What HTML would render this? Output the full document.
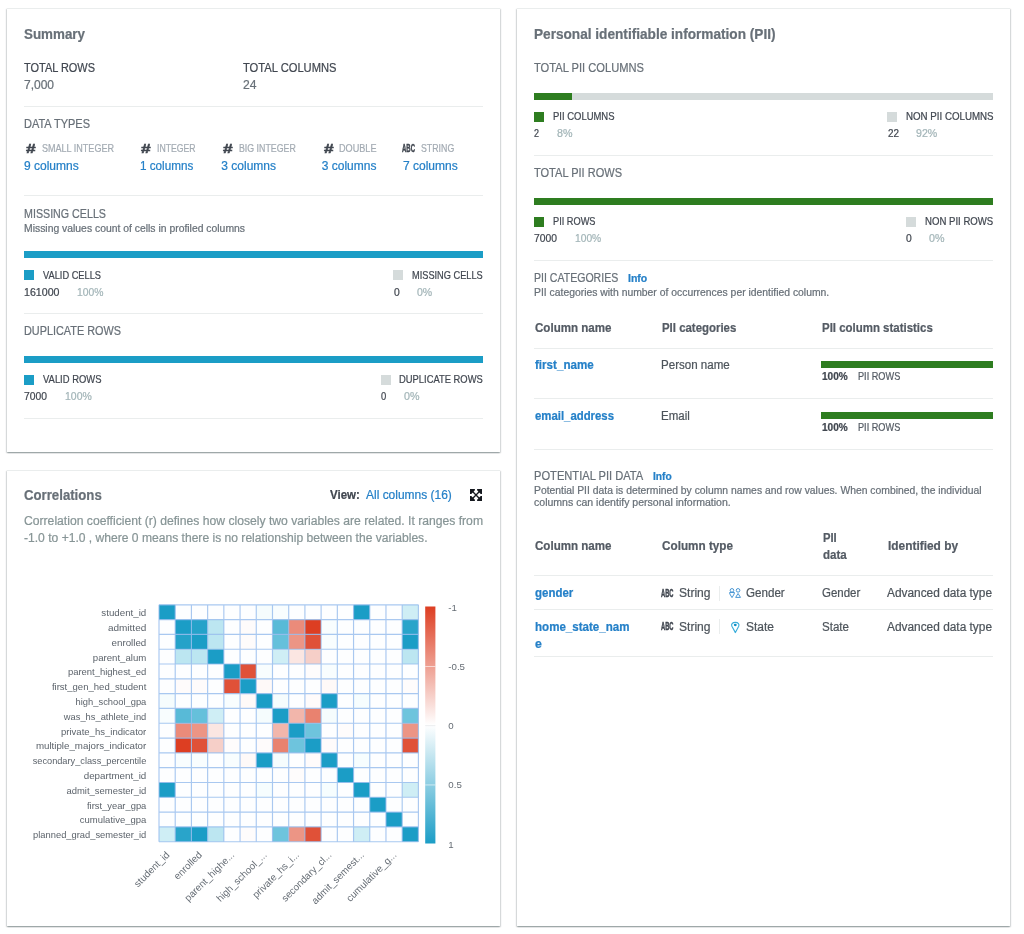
<!DOCTYPE html>
<html lang="en"><head><meta charset="utf-8"><title>Data profile overview</title>
<style>html,body{margin:0;padding:0;background:#fff}body{width:1024px;height:934px;position:relative;overflow:hidden;font-family:"Liberation Sans", Arial, sans-serif}.t{position:absolute;white-space:nowrap;line-height:1;transform-origin:0 50%;-webkit-text-stroke:0.22px}.panel{position:absolute;background:#fff;border-top:1px solid #eaeded;box-sizing:border-box;box-shadow:0 1.4px 1.2px 0 rgba(0,28,36,.28),1px 1px 1.2px 0 rgba(0,28,36,.14),-1px 1px 1.2px 0 rgba(0,28,36,.14);}#page{position:absolute;left:0;top:0;width:1024px;height:934px;will-change:transform}</style></head><body><div id="page">
<div class="panel" style="left:7px;top:8px;width:493px;height:444px"></div>
<div class="panel" style="left:7px;top:470px;width:493px;height:456px"></div>
<div class="panel" style="left:517px;top:8px;width:493px;height:918px"></div>
<div style="position:absolute;left:24px;top:106px;width:459px;height:1px;background:#eaeded;"></div>
<div style="position:absolute;left:24px;top:195px;width:459px;height:1px;background:#eaeded;"></div>
<div style="position:absolute;left:24px;top:251px;width:459px;height:7px;background:#1b9dc6;"></div>
<div style="position:absolute;left:24px;top:270px;width:10px;height:10px;background:#1b9dc6;"></div>
<div style="position:absolute;left:393px;top:270px;width:10px;height:10px;background:#d5dbdb;"></div>
<div style="position:absolute;left:24px;top:313px;width:459px;height:1px;background:#eaeded;"></div>
<div style="position:absolute;left:24px;top:356px;width:459px;height:7px;background:#1b9dc6;"></div>
<div style="position:absolute;left:24px;top:375px;width:10px;height:10px;background:#1b9dc6;"></div>
<div style="position:absolute;left:381px;top:375px;width:10px;height:10px;background:#d5dbdb;"></div>
<div style="position:absolute;left:24px;top:418px;width:459px;height:1px;background:#eaeded;"></div>
<div style="position:absolute;left:534px;top:93px;width:459px;height:7px;background:#d5dbdb;"></div>
<div style="position:absolute;left:534px;top:93px;width:37.5px;height:7px;background:#2e7d20;"></div>
<div style="position:absolute;left:534px;top:112px;width:10px;height:10px;background:#2e7d20;"></div>
<div style="position:absolute;left:887px;top:112px;width:10px;height:10px;background:#d5dbdb;"></div>
<div style="position:absolute;left:534px;top:155px;width:459px;height:1px;background:#eaeded;"></div>
<div style="position:absolute;left:534px;top:198px;width:459px;height:7px;background:#2e7d20;"></div>
<div style="position:absolute;left:534px;top:216.75px;width:10px;height:10px;background:#2e7d20;"></div>
<div style="position:absolute;left:905.5px;top:216.75px;width:10px;height:10px;background:#d5dbdb;"></div>
<div style="position:absolute;left:534px;top:260px;width:459px;height:1px;background:#eaeded;"></div>
<div style="position:absolute;left:534px;top:348px;width:459px;height:1px;background:#eaeded;"></div>
<div style="position:absolute;left:821px;top:361.25px;width:172px;height:6.5px;background:#2e7d20;"></div>
<div style="position:absolute;left:534px;top:398px;width:459px;height:1px;background:#eaeded;"></div>
<div style="position:absolute;left:821px;top:412px;width:172px;height:6.75px;background:#2e7d20;"></div>
<div style="position:absolute;left:534px;top:449px;width:459px;height:1px;background:#eaeded;"></div>
<div style="position:absolute;left:534px;top:575px;width:459px;height:1px;background:#eaeded;"></div>
<div style="position:absolute;left:719px;top:585.5px;width:1px;height:15px;background:#eaeded;"></div>
<div style="position:absolute;left:534px;top:609px;width:459px;height:1px;background:#eaeded;"></div>
<div style="position:absolute;left:719px;top:619.25px;width:1px;height:15px;background:#eaeded;"></div>
<div style="position:absolute;left:534px;top:656px;width:459px;height:1px;background:#eaeded;"></div>
<svg width="494" height="360" viewBox="6 570 494 360" style="position:absolute;left:6px;top:570px;font-family:&quot;Liberation Sans&quot;, Arial, sans-serif">
<defs><linearGradient id="cb" x1="0" y1="0" x2="0" y2="1"><stop offset="0" stop-color="#dd3e22"/><stop offset="0.5" stop-color="#ffffff"/><stop offset="1" stop-color="#1b9dc6"/></linearGradient></defs>
<rect x="159.0" y="604.8" width="259.40" height="236.90" fill="#fdfeff"/>
<rect x="159.00" y="604.80" width="16.21" height="14.81" fill="#1b9dc6"/>
<rect x="256.27" y="604.80" width="16.21" height="14.81" fill="#f5fcfd"/>
<rect x="272.49" y="604.80" width="16.21" height="14.81" fill="#f8fdfe"/>
<rect x="353.55" y="604.80" width="16.21" height="14.81" fill="#1b9dc6"/>
<rect x="402.19" y="604.80" width="16.21" height="14.81" fill="#cfeef5"/>
<rect x="175.21" y="619.61" width="16.21" height="14.81" fill="#1b9dc6"/>
<rect x="191.43" y="619.61" width="16.21" height="14.81" fill="#25a2c9"/>
<rect x="207.64" y="619.61" width="16.21" height="14.81" fill="#bce6f1"/>
<rect x="240.06" y="619.61" width="16.21" height="14.81" fill="#fefbfb"/>
<rect x="272.49" y="619.61" width="16.21" height="14.81" fill="#58bad7"/>
<rect x="288.70" y="619.61" width="16.21" height="14.81" fill="#eb8b7a"/>
<rect x="304.91" y="619.61" width="16.21" height="14.81" fill="#dd3e22"/>
<rect x="321.12" y="619.61" width="16.21" height="14.81" fill="#f8fdfe"/>
<rect x="402.19" y="619.61" width="16.21" height="14.81" fill="#29a4ca"/>
<rect x="175.21" y="634.41" width="16.21" height="14.81" fill="#25a2c9"/>
<rect x="191.43" y="634.41" width="16.21" height="14.81" fill="#1b9dc6"/>
<rect x="207.64" y="634.41" width="16.21" height="14.81" fill="#bce6f1"/>
<rect x="240.06" y="634.41" width="16.21" height="14.81" fill="#fefbfb"/>
<rect x="272.49" y="634.41" width="16.21" height="14.81" fill="#65c0db"/>
<rect x="288.70" y="634.41" width="16.21" height="14.81" fill="#ec9585"/>
<rect x="304.91" y="634.41" width="16.21" height="14.81" fill="#e05138"/>
<rect x="321.12" y="634.41" width="16.21" height="14.81" fill="#f8fdfe"/>
<rect x="402.19" y="634.41" width="16.21" height="14.81" fill="#1b9dc6"/>
<rect x="175.21" y="649.22" width="16.21" height="14.81" fill="#bce6f1"/>
<rect x="191.43" y="649.22" width="16.21" height="14.81" fill="#bce6f1"/>
<rect x="207.64" y="649.22" width="16.21" height="14.81" fill="#1b9dc6"/>
<rect x="272.49" y="649.22" width="16.21" height="14.81" fill="#cfeef5"/>
<rect x="288.70" y="649.22" width="16.21" height="14.81" fill="#fbe6e2"/>
<rect x="304.91" y="649.22" width="16.21" height="14.81" fill="#f6cfc8"/>
<rect x="402.19" y="649.22" width="16.21" height="14.81" fill="#bce6f1"/>
<rect x="223.85" y="664.02" width="16.21" height="14.81" fill="#1b9dc6"/>
<rect x="240.06" y="664.02" width="16.21" height="14.81" fill="#e05138"/>
<rect x="256.27" y="664.02" width="16.21" height="14.81" fill="#f8fdfe"/>
<rect x="304.91" y="664.02" width="16.21" height="14.81" fill="#fefcfc"/>
<rect x="321.12" y="664.02" width="16.21" height="14.81" fill="#f8fdfe"/>
<rect x="175.21" y="678.83" width="16.21" height="14.81" fill="#fefbfb"/>
<rect x="191.43" y="678.83" width="16.21" height="14.81" fill="#fefbfb"/>
<rect x="223.85" y="678.83" width="16.21" height="14.81" fill="#e05138"/>
<rect x="240.06" y="678.83" width="16.21" height="14.81" fill="#1b9dc6"/>
<rect x="256.27" y="678.83" width="16.21" height="14.81" fill="#fef9f8"/>
<rect x="321.12" y="678.83" width="16.21" height="14.81" fill="#fef9f8"/>
<rect x="402.19" y="678.83" width="16.21" height="14.81" fill="#fefcfc"/>
<rect x="159.00" y="693.64" width="16.21" height="14.81" fill="#f5fcfd"/>
<rect x="223.85" y="693.64" width="16.21" height="14.81" fill="#f8fdfe"/>
<rect x="240.06" y="693.64" width="16.21" height="14.81" fill="#fef9f8"/>
<rect x="256.27" y="693.64" width="16.21" height="14.81" fill="#1b9dc6"/>
<rect x="272.49" y="693.64" width="16.21" height="14.81" fill="#f5fcfd"/>
<rect x="304.91" y="693.64" width="16.21" height="14.81" fill="#fefbfb"/>
<rect x="321.12" y="693.64" width="16.21" height="14.81" fill="#1b9dc6"/>
<rect x="353.55" y="693.64" width="16.21" height="14.81" fill="#f6fdfe"/>
<rect x="159.00" y="708.44" width="16.21" height="14.81" fill="#f8fdfe"/>
<rect x="175.21" y="708.44" width="16.21" height="14.81" fill="#58bad7"/>
<rect x="191.43" y="708.44" width="16.21" height="14.81" fill="#65c0db"/>
<rect x="207.64" y="708.44" width="16.21" height="14.81" fill="#cfeef5"/>
<rect x="256.27" y="708.44" width="16.21" height="14.81" fill="#f5fcfd"/>
<rect x="272.49" y="708.44" width="16.21" height="14.81" fill="#1b9dc6"/>
<rect x="288.70" y="708.44" width="16.21" height="14.81" fill="#f2b6ab"/>
<rect x="304.91" y="708.44" width="16.21" height="14.81" fill="#e9826f"/>
<rect x="321.12" y="708.44" width="16.21" height="14.81" fill="#f5fcfd"/>
<rect x="402.19" y="708.44" width="16.21" height="14.81" fill="#6ec4dd"/>
<rect x="175.21" y="723.25" width="16.21" height="14.81" fill="#eb8b7a"/>
<rect x="191.43" y="723.25" width="16.21" height="14.81" fill="#ec9585"/>
<rect x="207.64" y="723.25" width="16.21" height="14.81" fill="#fbe6e2"/>
<rect x="272.49" y="723.25" width="16.21" height="14.81" fill="#f2b6ab"/>
<rect x="288.70" y="723.25" width="16.21" height="14.81" fill="#1b9dc6"/>
<rect x="304.91" y="723.25" width="16.21" height="14.81" fill="#6ec4dd"/>
<rect x="337.34" y="723.25" width="16.21" height="14.81" fill="#fefcfc"/>
<rect x="402.19" y="723.25" width="16.21" height="14.81" fill="#ec9585"/>
<rect x="175.21" y="738.06" width="16.21" height="14.81" fill="#dd3e22"/>
<rect x="191.43" y="738.06" width="16.21" height="14.81" fill="#e05138"/>
<rect x="207.64" y="738.06" width="16.21" height="14.81" fill="#f6cfc8"/>
<rect x="223.85" y="738.06" width="16.21" height="14.81" fill="#fefcfc"/>
<rect x="256.27" y="738.06" width="16.21" height="14.81" fill="#fefbfb"/>
<rect x="272.49" y="738.06" width="16.21" height="14.81" fill="#e9826f"/>
<rect x="288.70" y="738.06" width="16.21" height="14.81" fill="#6ec4dd"/>
<rect x="304.91" y="738.06" width="16.21" height="14.81" fill="#1b9dc6"/>
<rect x="321.12" y="738.06" width="16.21" height="14.81" fill="#fefbfb"/>
<rect x="402.19" y="738.06" width="16.21" height="14.81" fill="#e05138"/>
<rect x="175.21" y="752.86" width="16.21" height="14.81" fill="#f8fdfe"/>
<rect x="191.43" y="752.86" width="16.21" height="14.81" fill="#f8fdfe"/>
<rect x="223.85" y="752.86" width="16.21" height="14.81" fill="#f8fdfe"/>
<rect x="240.06" y="752.86" width="16.21" height="14.81" fill="#fef9f8"/>
<rect x="256.27" y="752.86" width="16.21" height="14.81" fill="#1b9dc6"/>
<rect x="272.49" y="752.86" width="16.21" height="14.81" fill="#f5fcfd"/>
<rect x="304.91" y="752.86" width="16.21" height="14.81" fill="#fefbfb"/>
<rect x="321.12" y="752.86" width="16.21" height="14.81" fill="#1b9dc6"/>
<rect x="353.55" y="752.86" width="16.21" height="14.81" fill="#f6fdfe"/>
<rect x="288.70" y="767.67" width="16.21" height="14.81" fill="#fefcfc"/>
<rect x="337.34" y="767.67" width="16.21" height="14.81" fill="#1b9dc6"/>
<rect x="159.00" y="782.48" width="16.21" height="14.81" fill="#1b9dc6"/>
<rect x="256.27" y="782.48" width="16.21" height="14.81" fill="#f6fdfe"/>
<rect x="321.12" y="782.48" width="16.21" height="14.81" fill="#f6fdfe"/>
<rect x="353.55" y="782.48" width="16.21" height="14.81" fill="#1b9dc6"/>
<rect x="402.19" y="782.48" width="16.21" height="14.81" fill="#cfeef5"/>
<rect x="369.76" y="797.28" width="16.21" height="14.81" fill="#1b9dc6"/>
<rect x="385.97" y="812.09" width="16.21" height="14.81" fill="#1b9dc6"/>
<rect x="159.00" y="826.89" width="16.21" height="14.81" fill="#cfeef5"/>
<rect x="175.21" y="826.89" width="16.21" height="14.81" fill="#29a4ca"/>
<rect x="191.43" y="826.89" width="16.21" height="14.81" fill="#1b9dc6"/>
<rect x="207.64" y="826.89" width="16.21" height="14.81" fill="#bce6f1"/>
<rect x="240.06" y="826.89" width="16.21" height="14.81" fill="#fefcfc"/>
<rect x="272.49" y="826.89" width="16.21" height="14.81" fill="#6ec4dd"/>
<rect x="288.70" y="826.89" width="16.21" height="14.81" fill="#ec9585"/>
<rect x="304.91" y="826.89" width="16.21" height="14.81" fill="#e05138"/>
<rect x="353.55" y="826.89" width="16.21" height="14.81" fill="#cfeef5"/>
<rect x="402.19" y="826.89" width="16.21" height="14.81" fill="#1b9dc6"/>
<path d="M159.00 604.80V841.70M159.00 604.80H418.40M175.21 604.80V841.70M159.00 619.61H418.40M191.43 604.80V841.70M159.00 634.41H418.40M207.64 604.80V841.70M159.00 649.22H418.40M223.85 604.80V841.70M159.00 664.02H418.40M240.06 604.80V841.70M159.00 678.83H418.40M256.27 604.80V841.70M159.00 693.64H418.40M272.49 604.80V841.70M159.00 708.44H418.40M288.70 604.80V841.70M159.00 723.25H418.40M304.91 604.80V841.70M159.00 738.06H418.40M321.12 604.80V841.70M159.00 752.86H418.40M337.34 604.80V841.70M159.00 767.67H418.40M353.55 604.80V841.70M159.00 782.48H418.40M369.76 604.80V841.70M159.00 797.28H418.40M385.97 604.80V841.70M159.00 812.09H418.40M402.19 604.80V841.70M159.00 826.89H418.40M418.40 604.80V841.70M159.00 841.70H418.40" stroke="#94baec" stroke-opacity="0.8" stroke-width="1.15" fill="none"/>
<text x="146.3" y="616.20" font-size="9.8" fill="#5c636b" text-anchor="end" textLength="45.0" lengthAdjust="spacingAndGlyphs">student_id</text>
<text x="146.3" y="631.01" font-size="9.8" fill="#5c636b" text-anchor="end" textLength="38.4" lengthAdjust="spacingAndGlyphs">admitted</text>
<text x="146.3" y="645.82" font-size="9.8" fill="#5c636b" text-anchor="end" textLength="34.8" lengthAdjust="spacingAndGlyphs">enrolled</text>
<text x="146.3" y="660.62" font-size="9.8" fill="#5c636b" text-anchor="end" textLength="53.5" lengthAdjust="spacingAndGlyphs">parent_alum</text>
<text x="146.3" y="675.43" font-size="9.8" fill="#5c636b" text-anchor="end" textLength="78.4" lengthAdjust="spacingAndGlyphs">parent_highest_ed</text>
<text x="146.3" y="690.23" font-size="9.8" fill="#5c636b" text-anchor="end" textLength="94.4" lengthAdjust="spacingAndGlyphs">first_gen_hed_student</text>
<text x="146.3" y="705.04" font-size="9.8" fill="#5c636b" text-anchor="end" textLength="70.7" lengthAdjust="spacingAndGlyphs">high_school_gpa</text>
<text x="146.3" y="719.85" font-size="9.8" fill="#5c636b" text-anchor="end" textLength="82.5" lengthAdjust="spacingAndGlyphs">was_hs_athlete_ind</text>
<text x="146.3" y="734.65" font-size="9.8" fill="#5c636b" text-anchor="end" textLength="85.3" lengthAdjust="spacingAndGlyphs">private_hs_indicator</text>
<text x="146.3" y="749.46" font-size="9.8" fill="#5c636b" text-anchor="end" textLength="110.4" lengthAdjust="spacingAndGlyphs">multiple_majors_indicator</text>
<text x="146.3" y="764.27" font-size="9.8" fill="#5c636b" text-anchor="end" textLength="113.6" lengthAdjust="spacingAndGlyphs">secondary_class_percentile</text>
<text x="146.3" y="779.07" font-size="9.8" fill="#5c636b" text-anchor="end" textLength="62.6" lengthAdjust="spacingAndGlyphs">department_id</text>
<text x="146.3" y="793.88" font-size="9.8" fill="#5c636b" text-anchor="end" textLength="79.8" lengthAdjust="spacingAndGlyphs">admit_semester_id</text>
<text x="146.3" y="808.68" font-size="9.8" fill="#5c636b" text-anchor="end" textLength="59.3" lengthAdjust="spacingAndGlyphs">first_year_gpa</text>
<text x="146.3" y="823.49" font-size="9.8" fill="#5c636b" text-anchor="end" textLength="66.5" lengthAdjust="spacingAndGlyphs">cumulative_gpa</text>
<text x="146.3" y="838.30" font-size="9.8" fill="#5c636b" text-anchor="end" textLength="113.2" lengthAdjust="spacingAndGlyphs">planned_grad_semester_id</text>
<text transform="translate(170.11 855.50) rotate(-45)" font-size="9.85" fill="#666d75" text-anchor="end">student_id</text>
<text transform="translate(202.53 855.50) rotate(-45)" font-size="9.85" fill="#666d75" text-anchor="end">enrolled</text>
<text transform="translate(234.96 855.50) rotate(-45)" font-size="9.85" fill="#666d75" text-anchor="end">parent_highe...</text>
<text transform="translate(267.38 855.50) rotate(-45)" font-size="9.85" fill="#666d75" text-anchor="end">high_school_...</text>
<text transform="translate(299.81 855.50) rotate(-45)" font-size="9.85" fill="#666d75" text-anchor="end">private_hs_i...</text>
<text transform="translate(332.23 855.50) rotate(-45)" font-size="9.85" fill="#666d75" text-anchor="end">secondary_cl...</text>
<text transform="translate(364.66 855.50) rotate(-45)" font-size="9.85" fill="#666d75" text-anchor="end">admit_semest...</text>
<text transform="translate(397.08 855.50) rotate(-45)" font-size="9.85" fill="#666d75" text-anchor="end">cumulative_g...</text>
<rect x="425.2" y="606.5" width="10.2" height="237" fill="url(#cb)"/>
<text x="448.3" y="610.50" font-size="9.7" fill="#666d75">-1</text>
<rect x="425.2" y="666.05" width="10.2" height="0.8" fill="#ffffff" fill-opacity="0.75"/>
<text x="448.3" y="669.75" font-size="9.7" fill="#666d75">-0.5</text>
<rect x="425.2" y="725.30" width="10.2" height="0.8" fill="#dfe3e6" fill-opacity="0.75"/>
<text x="448.3" y="729.00" font-size="9.7" fill="#666d75">0</text>
<rect x="425.2" y="784.55" width="10.2" height="0.8" fill="#ffffff" fill-opacity="0.75"/>
<text x="448.3" y="788.25" font-size="9.7" fill="#666d75">0.5</text>
<text x="448.3" y="847.50" font-size="9.7" fill="#666d75">1</text>
</svg>
<svg viewBox="0 0 12 12" width="12" height="12" style="position:absolute;left:470px;top:489px"><path d="M0 0h4.900v1.300L1.300 4.900H0zM12 0v4.900h-1.300L7.100 1.300V0zM0 12V7.100h1.300L4.900 10.700V12zM12 12H7.100v-1.300L10.700 7.100H12z" fill="#16191f"/><path d="M1.800 1.800L10.200 10.200M10.200 1.800L1.800 10.200" stroke="#16191f" stroke-width="1.35" fill="none"/></svg>
<svg viewBox="0 0 16 14" width="16" height="14" style="position:absolute;left:728px;top:586px" fill="none" stroke="#4a97d4" stroke-width="1.0" stroke-linejoin="round"><circle cx="3.970" cy="4.350" r="1.800"/><path d="M1.600 6.500h4.800l-0.250 1.500-2.150 3.600-2.150-3.600z"/><circle cx="10.060" cy="4.350" r="1.800"/><path d="M10.060 7.500L7.650 11.400h4.850z"/></svg>
<svg viewBox="0 0 12 16" width="12" height="16" style="position:absolute;left:730px;top:619px" fill="none" stroke="#3aaedb" stroke-width="1.150" stroke-linejoin="round"><path d="M5.400 13.600L1.900 7.300C0.900 5.300 2.300 3.300 5.300 3.300S9.600 5.300 8.700 7.300z"/><ellipse cx="5.300" cy="6" rx="1.450" ry="1.150" fill="#0e90c6" stroke="none"/></svg>
<span class="t" id="t0" style="left:24.00px;top:27.03px;font-size:14px;color:#687078;font-weight:700;transform:scaleX(0.9559);">Summary</span>
<span class="t" id="t1" style="left:24.00px;top:62.03px;font-size:12.3px;color:#414750;transform:scaleX(0.8906);">TOTAL ROWS</span>
<span class="t" id="t2" style="left:24.00px;top:79.03px;font-size:12px;color:#687078;">7,000</span>
<span class="t" id="t3" style="left:242.50px;top:62.03px;font-size:12.3px;color:#414750;transform:scaleX(0.9082);">TOTAL COLUMNS</span>
<span class="t" id="t4" style="left:242.50px;top:79.03px;font-size:12px;color:#687078;transform:scaleX(1.0105);">24</span>
<span class="t" id="t5" style="left:24.00px;top:118.03px;font-size:12.3px;color:#687078;transform:scaleX(0.8942);">DATA TYPES</span>
<span class="t" id="t6" style="left:25.70px;top:143.02px;font-size:12.5px;color:#414750;font-weight:700;-webkit-text-stroke:0.5px;transform:scaleX(1.3807);">#</span>
<span class="t" id="t7" style="left:41.70px;top:143.02px;font-size:10.5px;color:#a3abb3;transform:scaleX(0.8608);">SMALL INTEGER</span>
<span class="t" id="t8" style="left:24.00px;top:160.03px;font-size:12px;color:#2580c8;">9 columns</span>
<span class="t" id="t9" style="left:140.80px;top:143.02px;font-size:12.5px;color:#414750;font-weight:700;-webkit-text-stroke:0.5px;transform:scaleX(1.3807);">#</span>
<span class="t" id="t10" style="left:156.80px;top:143.02px;font-size:10.5px;color:#a3abb3;transform:scaleX(0.8271);">INTEGER</span>
<span class="t" id="t11" style="left:140.00px;top:160.03px;font-size:12px;color:#2580c8;transform:scaleX(0.9744);">1 columns</span>
<span class="t" id="t12" style="left:223.00px;top:143.02px;font-size:12.5px;color:#414750;font-weight:700;-webkit-text-stroke:0.5px;transform:scaleX(1.3807);">#</span>
<span class="t" id="t13" style="left:238.75px;top:143.02px;font-size:10.5px;color:#a3abb3;transform:scaleX(0.8384);">BIG INTEGER</span>
<span class="t" id="t14" style="left:221.30px;top:160.03px;font-size:12px;color:#2580c8;">3 columns</span>
<span class="t" id="t15" style="left:324.00px;top:143.02px;font-size:12.5px;color:#414750;font-weight:700;-webkit-text-stroke:0.5px;transform:scaleX(1.3807);">#</span>
<span class="t" id="t16" style="left:339.25px;top:143.02px;font-size:10.5px;color:#a3abb3;transform:scaleX(0.8683);">DOUBLE</span>
<span class="t" id="t17" style="left:321.75px;top:160.03px;font-size:12px;color:#2580c8;">3 columns</span>
<span class="t" id="t18" style="left:402.00px;top:144.04px;font-size:10px;color:#414750;font-weight:700;-webkit-text-stroke:0.45px;transform:scaleX(0.5999);">ABC</span>
<span class="t" id="t19" style="left:420.50px;top:143.02px;font-size:10.5px;color:#a3abb3;transform:scaleX(0.8381);">STRING</span>
<span class="t" id="t20" style="left:403.00px;top:160.03px;font-size:12px;color:#2580c8;">7 columns</span>
<span class="t" id="t21" style="left:24.00px;top:208.03px;font-size:12.3px;color:#687078;transform:scaleX(0.8694);">MISSING CELLS</span>
<span class="t" id="t22" style="left:24.00px;top:224.04px;font-size:10.3px;color:#687078;transform:scaleX(1.0082);">Missing values count of cells in profiled columns</span>
<span class="t" id="t23" style="left:42.50px;top:270.02px;font-size:10.5px;color:#414750;transform:scaleX(0.8819);">VALID CELLS</span>
<span class="t" id="t24" style="left:24.00px;top:287.02px;font-size:10.5px;color:#414750;transform:scaleX(1.0129);">161000</span>
<span class="t" id="t25" style="left:76.75px;top:287.02px;font-size:10.5px;color:#a3b5b8;transform:scaleX(0.9866);">100%</span>
<span class="t" id="t26" style="left:412.25px;top:270.02px;font-size:10.5px;color:#414750;transform:scaleX(0.8785);">MISSING CELLS</span>
<span class="t" id="t27" style="left:393.50px;top:287.02px;font-size:10.5px;color:#414750;transform:scaleX(0.9840);">0</span>
<span class="t" id="t28" style="left:416.50px;top:287.02px;font-size:10.5px;color:#a3b5b8;transform:scaleX(1.0041);">0%</span>
<span class="t" id="t29" style="left:24.00px;top:325.03px;font-size:12.3px;color:#687078;transform:scaleX(0.8836);">DUPLICATE ROWS</span>
<span class="t" id="t30" style="left:42.50px;top:374.02px;font-size:10.5px;color:#414750;transform:scaleX(0.8978);">VALID ROWS</span>
<span class="t" id="t31" style="left:24.00px;top:391.02px;font-size:10.5px;color:#414750;transform:scaleX(0.9846);">7000</span>
<span class="t" id="t32" style="left:65.00px;top:391.02px;font-size:10.5px;color:#a3b5b8;transform:scaleX(0.9959);">100%</span>
<span class="t" id="t33" style="left:399.25px;top:374.02px;font-size:10.5px;color:#414750;transform:scaleX(0.8935);">DUPLICATE ROWS</span>
<span class="t" id="t34" style="left:381.00px;top:391.02px;font-size:10.5px;color:#414750;transform:scaleX(0.8984);">0</span>
<span class="t" id="t35" style="left:403.50px;top:391.02px;font-size:10.5px;color:#a3b5b8;transform:scaleX(1.0206);">0%</span>
<span class="t" id="t36" style="left:24.00px;top:488.03px;font-size:14px;color:#687078;font-weight:700;transform:scaleX(0.9428);">Correlations</span>
<span class="t" id="t37" style="left:330.20px;top:489.03px;font-size:12.3px;color:#414750;font-weight:700;transform:scaleX(0.9340);">View:</span>
<span class="t" id="t38" style="left:366.00px;top:489.03px;font-size:12.3px;color:#2580c8;transform:scaleX(0.9733);">All columns (16)</span>
<span class="t" id="t39" style="left:24.00px;top:515.03px;font-size:12.3px;color:#879596;transform:scaleX(0.9881);">Correlation coefficient (r) defines how closely two variables are related. It ranges from</span>
<span class="t" id="t40" style="left:24.00px;top:532.03px;font-size:12.3px;color:#879596;transform:scaleX(0.9830);">-1.0 to +1.0 , where 0 means there is no relationship between the variables.</span>
<span class="t" id="t41" style="left:534.00px;top:27.03px;font-size:14px;color:#687078;font-weight:700;transform:scaleX(0.9732);">Personal identifiable information (PII)</span>
<span class="t" id="t42" style="left:534.00px;top:62.03px;font-size:12.3px;color:#687078;transform:scaleX(0.9060);">TOTAL PII COLUMNS</span>
<span class="t" id="t43" style="left:552.50px;top:111.02px;font-size:10.5px;color:#414750;transform:scaleX(0.9009);">PII COLUMNS</span>
<span class="t" id="t44" style="left:534.00px;top:128.02px;font-size:10.5px;color:#414750;transform:scaleX(0.8556);">2</span>
<span class="t" id="t45" style="left:556.50px;top:128.02px;font-size:10.5px;color:#a3b5b8;transform:scaleX(1.0206);">8%</span>
<span class="t" id="t46" style="left:905.50px;top:111.02px;font-size:10.5px;color:#414750;transform:scaleX(0.9258);">NON PII COLUMNS</span>
<span class="t" id="t47" style="left:887.50px;top:128.02px;font-size:10.5px;color:#414750;transform:scaleX(0.9412);">22</span>
<span class="t" id="t48" style="left:916.00px;top:128.02px;font-size:10.5px;color:#a3b5b8;transform:scaleX(1.0112);">92%</span>
<span class="t" id="t49" style="left:534.00px;top:167.03px;font-size:12.3px;color:#687078;transform:scaleX(0.8964);">TOTAL PII ROWS</span>
<span class="t" id="t50" style="left:552.50px;top:216.02px;font-size:10.5px;color:#414750;transform:scaleX(0.8777);">PII ROWS</span>
<span class="t" id="t51" style="left:534.00px;top:233.02px;font-size:10.5px;color:#414750;transform:scaleX(0.9846);">7000</span>
<span class="t" id="t52" style="left:575.00px;top:233.02px;font-size:10.5px;color:#a3b5b8;transform:scaleX(0.9773);">100%</span>
<span class="t" id="t53" style="left:924.75px;top:216.02px;font-size:10.5px;color:#414750;transform:scaleX(0.9140);">NON PII ROWS</span>
<span class="t" id="t54" style="left:906.00px;top:233.02px;font-size:10.5px;color:#414750;transform:scaleX(0.9840);">0</span>
<span class="t" id="t55" style="left:928.75px;top:233.02px;font-size:10.5px;color:#a3b5b8;transform:scaleX(1.0206);">0%</span>
<span class="t" id="t56" style="left:534.00px;top:272.03px;font-size:12.3px;color:#687078;transform:scaleX(0.8582);">PII CATEGORIES</span>
<span class="t" id="t57" style="left:627.75px;top:274.02px;font-size:10px;color:#2580c8;font-weight:700;transform:scaleX(1.0503);">Info</span>
<span class="t" id="t58" style="left:534.00px;top:288.04px;font-size:10.3px;color:#687078;transform:scaleX(1.0075);">PII categories with number of occurrences per identified column.</span>
<span class="t" id="t59" style="left:535.00px;top:322.03px;font-size:12.3px;color:#545b64;font-weight:700;transform:scaleX(0.9408);">Column name</span>
<span class="t" id="t60" style="left:661.50px;top:322.03px;font-size:12.3px;color:#545b64;font-weight:700;transform:scaleX(0.9285);">PII categories</span>
<span class="t" id="t61" style="left:822.25px;top:322.03px;font-size:12.3px;color:#545b64;font-weight:700;transform:scaleX(0.9314);">PII column statistics</span>
<span class="t" id="t62" style="left:535.00px;top:359.03px;font-size:12.3px;color:#2580c8;font-weight:700;transform:scaleX(0.9445);">first_name</span>
<span class="t" id="t63" style="left:661.25px;top:359.03px;font-size:12.3px;color:#4d545b;transform:scaleX(0.9400);">Person name</span>
<span class="t" id="t64" style="left:822.25px;top:372.03px;font-size:10.2px;color:#414750;font-weight:700;transform:scaleX(0.9880);">100%</span>
<span class="t" id="t65" style="left:857.50px;top:372.03px;font-size:10.2px;color:#545b64;transform:scaleX(0.8992);">PII ROWS</span>
<span class="t" id="t66" style="left:535.00px;top:410.03px;font-size:12.3px;color:#2580c8;font-weight:700;transform:scaleX(0.9245);">email_address</span>
<span class="t" id="t67" style="left:661.25px;top:410.03px;font-size:12.3px;color:#4d545b;transform:scaleX(0.9350);">Email</span>
<span class="t" id="t68" style="left:822.25px;top:423.03px;font-size:10.2px;color:#414750;font-weight:700;transform:scaleX(0.9880);">100%</span>
<span class="t" id="t69" style="left:857.50px;top:423.03px;font-size:10.2px;color:#545b64;transform:scaleX(0.8992);">PII ROWS</span>
<span class="t" id="t70" style="left:534.00px;top:470.03px;font-size:12.3px;color:#687078;transform:scaleX(0.9050);">POTENTIAL PII DATA</span>
<span class="t" id="t71" style="left:652.75px;top:472.02px;font-size:10px;color:#2580c8;font-weight:700;transform:scaleX(1.0230);">Info</span>
<span class="t" id="t72" style="left:534.00px;top:486.04px;font-size:10.3px;color:#687078;transform:scaleX(1.0062);">Potential PII data is determined by column names and row values. When combined, the individual</span>
<span class="t" id="t73" style="left:534.00px;top:498.04px;font-size:10.3px;color:#687078;transform:scaleX(1.0231);">columns can identify personal information.</span>
<span class="t" id="t74" style="left:535.00px;top:540.03px;font-size:12.3px;color:#545b64;font-weight:700;transform:scaleX(0.9408);">Column name</span>
<span class="t" id="t75" style="left:661.50px;top:540.03px;font-size:12.3px;color:#545b64;font-weight:700;transform:scaleX(0.9534);">Column type</span>
<span class="t" id="t76" style="left:822.50px;top:532.03px;font-size:12.3px;color:#545b64;font-weight:700;transform:scaleX(0.9138);">PII</span>
<span class="t" id="t77" style="left:822.50px;top:549.03px;font-size:12.3px;color:#545b64;font-weight:700;transform:scaleX(0.9389);">data</span>
<span class="t" id="t78" style="left:887.50px;top:540.03px;font-size:12.3px;color:#545b64;font-weight:700;transform:scaleX(0.9666);">Identified by</span>
<span class="t" id="t79" style="left:535.00px;top:587.03px;font-size:12.3px;color:#2580c8;font-weight:700;transform:scaleX(0.9329);">gender</span>
<span class="t" id="t80" style="left:660.75px;top:589.04px;font-size:10px;color:#414750;font-weight:700;-webkit-text-stroke:0.45px;transform:scaleX(0.5768);">ABC</span>
<span class="t" id="t81" style="left:678.75px;top:587.03px;font-size:12.3px;color:#4d545b;transform:scaleX(0.9805);">String</span>
<span class="t" id="t82" style="left:746.25px;top:587.03px;font-size:12.3px;color:#4d545b;transform:scaleX(0.9444);">Gender</span>
<span class="t" id="t83" style="left:821.75px;top:587.03px;font-size:12.3px;color:#4d545b;transform:scaleX(0.9322);">Gender</span>
<span class="t" id="t84" style="left:886.75px;top:587.03px;font-size:12.3px;color:#4d545b;transform:scaleX(0.9659);">Advanced data type</span>
<span class="t" id="t85" style="left:535.00px;top:621.03px;font-size:12.3px;color:#2580c8;font-weight:700;transform:scaleX(0.9406);">home_state_nam</span>
<span class="t" id="t86" style="left:535.00px;top:638.03px;font-size:12.3px;color:#2580c8;font-weight:700;">e</span>
<span class="t" id="t87" style="left:660.75px;top:622.04px;font-size:10px;color:#414750;font-weight:700;-webkit-text-stroke:0.45px;transform:scaleX(0.5768);">ABC</span>
<span class="t" id="t88" style="left:678.75px;top:621.03px;font-size:12.3px;color:#4d545b;transform:scaleX(0.9805);">String</span>
<span class="t" id="t89" style="left:746.25px;top:621.03px;font-size:12.3px;color:#4d545b;transform:scaleX(0.9750);">State</span>
<span class="t" id="t90" style="left:821.75px;top:621.03px;font-size:12.3px;color:#4d545b;transform:scaleX(0.9402);">State</span>
<span class="t" id="t91" style="left:886.75px;top:621.03px;font-size:12.3px;color:#4d545b;transform:scaleX(0.9659);">Advanced data type</span>
</div></body></html>
